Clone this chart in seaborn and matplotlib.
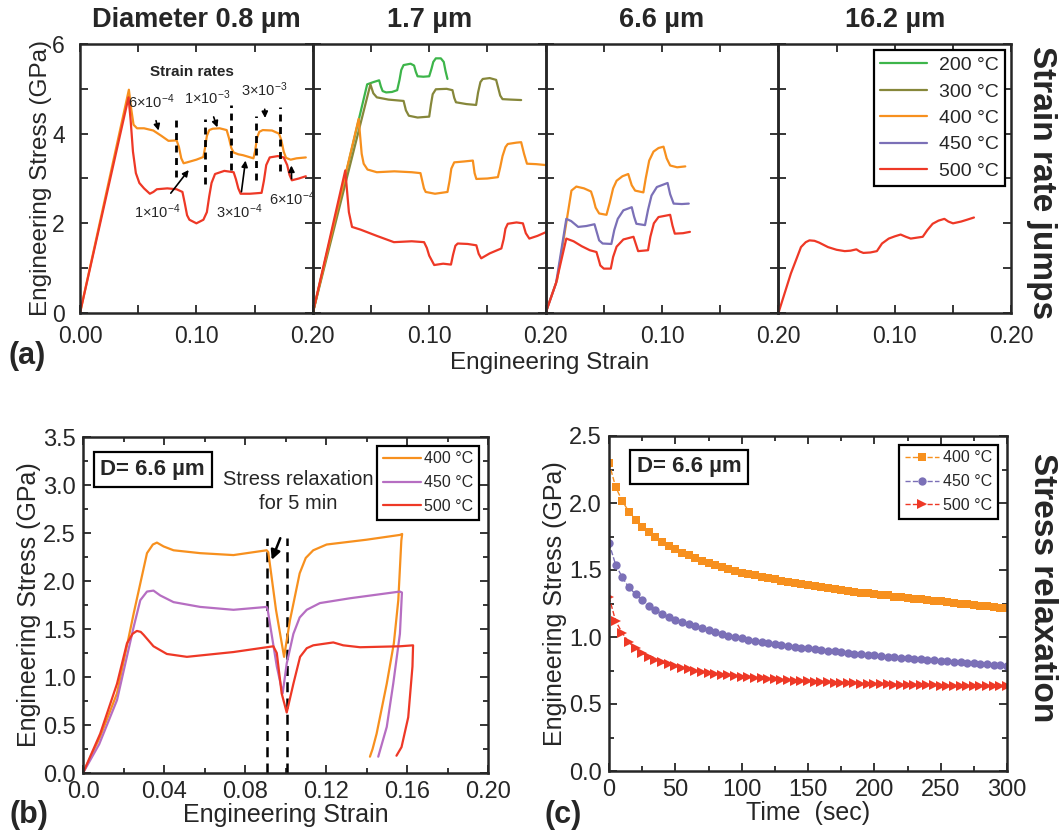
import matplotlib
matplotlib.use("Agg")
import matplotlib.pyplot as plt
from matplotlib.lines import Line2D
from matplotlib.ticker import MultipleLocator
import seaborn as sns

sns.set_style("ticks")
plt.rcParams["font.family"] = ["Liberation Sans", "DejaVu Sans"]
plt.rcParams["mathtext.default"] = "regular"
plt.rcParams["xtick.direction"] = "in"
plt.rcParams["ytick.direction"] = "in"

C_200 = "#3db54a"
C_300 = "#86873a"
C_400 = "#f7901e"
C_450 = "#7b70b7"
C_450B = "#b66ec2"
C_500 = "#ee3826"

W, H = 1064, 833

# ---------------- (a) strain rate jump data ----------------
diam_titles = ["Diameter 0.8 µm", "1.7 µm", "6.6 µm", "16.2 µm"]
temps_a = ["200 °C", "300 °C", "400 °C", "450 °C", "500 °C"]

# D = 0.8 um
a1_400_x = [0, 0.042, 0.044, 0.046, 0.049, 0.055, 0.063, 0.070, 0.076, 0.083, 0.085, 0.087, 0.089, 0.092,
            0.100, 0.106, 0.1075, 0.109, 0.111, 0.114, 0.120, 0.126, 0.128, 0.130, 0.132, 0.136, 0.140,
            0.149, 0.1505, 0.152, 0.154, 0.157, 0.165, 0.171, 0.173, 0.175, 0.177, 0.181, 0.186, 0.194]
a1_400_y = [0, 4.98, 4.55, 4.20, 4.12, 4.12, 4.07, 3.95, 3.84, 3.85, 3.70, 3.45, 3.34, 3.36,
            3.42, 3.48, 3.70, 3.95, 4.08, 4.11, 4.12, 4.08, 3.90, 3.68, 3.58, 3.54, 3.52,
            3.45, 3.62, 3.90, 4.04, 4.08, 4.07, 4.00, 3.85, 3.60, 3.46, 3.42, 3.45, 3.47]
a1_500_x = [0, 0.0417, 0.0435, 0.0455, 0.048, 0.051, 0.055, 0.060, 0.063, 0.066, 0.075, 0.083, 0.088,
            0.090, 0.092, 0.094, 0.100, 0.106, 0.109, 0.111, 0.113, 0.116, 0.124, 0.132, 0.134, 0.136,
            0.138, 0.146, 0.156, 0.158, 0.160, 0.163, 0.170, 0.175, 0.178, 0.180, 0.182, 0.188, 0.194]
a1_500_y = [0, 4.81, 4.30, 3.60, 3.12, 2.90, 2.78, 2.66, 2.70, 2.76, 2.78, 2.76, 2.70,
            2.45, 2.18, 2.08, 2.00, 2.08, 2.25, 2.60, 2.90, 3.10, 3.17, 3.14, 2.98, 2.78,
            2.66, 2.66, 2.68, 2.95, 3.30, 3.47, 3.50, 3.47, 3.30, 3.08, 2.96, 3.00, 3.05]

# D = 1.7 um
a2_200_x = [0, 0.0467, 0.052, 0.057, 0.0585, 0.060, 0.063, 0.068, 0.0725, 0.0745, 0.076, 0.078, 0.084,
            0.087, 0.0885, 0.090, 0.095, 0.100, 0.102, 0.1035, 0.1057, 0.110, 0.1125, 0.114, 0.1157]
a2_200_y = [0, 5.10, 5.15, 5.19, 5.05, 4.95, 4.92, 4.93, 4.97, 5.20, 5.42, 5.53, 5.56,
            5.52, 5.38, 5.28, 5.27, 5.28, 5.45, 5.60, 5.68, 5.68, 5.60, 5.40, 5.22]
a2_300_x = [0, 0.0495, 0.052, 0.055, 0.065, 0.078, 0.080, 0.0825, 0.090, 0.100, 0.1015, 0.103, 0.1057,
            0.115, 0.120, 0.1215, 0.123, 0.132, 0.1403, 0.142, 0.144, 0.146, 0.152, 0.1575, 0.1595,
            0.161, 0.163, 0.170, 0.179]
a2_300_y = [0, 5.10, 4.90, 4.81, 4.76, 4.73, 4.52, 4.40, 4.36, 4.38, 4.65, 4.88, 4.99,
            5.00, 4.97, 4.80, 4.70, 4.66, 4.64, 4.92, 5.15, 5.22, 5.24, 5.20, 5.00,
            4.85, 4.77, 4.76, 4.75]
a2_400_x = [0, 0.0394, 0.0405, 0.042, 0.0437, 0.047, 0.055, 0.070, 0.085, 0.0925, 0.094, 0.0955, 0.097,
            0.105, 0.1157, 0.1175, 0.119, 0.1215, 0.130, 0.1375, 0.139, 0.1405, 0.150, 0.159, 0.161,
            0.163, 0.1655, 0.1675, 0.175, 0.179, 0.1815, 0.184, 0.192, 0.200]
a2_400_y = [0, 4.33, 4.00, 3.55, 3.33, 3.20, 3.14, 3.16, 3.14, 3.12, 2.95, 2.78, 2.70,
            2.66, 2.70, 2.95, 3.22, 3.36, 3.38, 3.40, 3.12, 2.99, 3.00, 3.03, 3.25,
            3.50, 3.70, 3.77, 3.80, 3.81, 3.55, 3.33, 3.32, 3.30]
a2_500_x = [0, 0.0279, 0.0295, 0.031, 0.0337, 0.041, 0.055, 0.0697, 0.085, 0.0956, 0.098, 0.100, 0.1043,
            0.112, 0.1187, 0.1205, 0.1225, 0.1245, 0.133, 0.1405, 0.1425, 0.1447, 0.152, 0.162, 0.164,
            0.1655, 0.1675, 0.175, 0.1805, 0.183, 0.186, 0.193, 0.200]
a2_500_y = [0, 3.18, 2.70, 2.25, 1.92, 1.86, 1.72, 1.58, 1.60, 1.58, 1.45, 1.28, 1.07,
            1.10, 1.08, 1.30, 1.50, 1.55, 1.54, 1.51, 1.32, 1.22, 1.33, 1.44, 1.65,
            1.88, 1.99, 2.02, 2.00, 1.78, 1.66, 1.72, 1.80]

# D = 6.6 um
a3_400_x = [0, 0.010, 0.0222, 0.0264, 0.033, 0.039, 0.041, 0.043, 0.046, 0.0523, 0.055, 0.058, 0.061,
            0.066, 0.071, 0.074, 0.0769, 0.084, 0.086, 0.089, 0.0927, 0.097, 0.1013, 0.104, 0.107,
            0.113, 0.120]
a3_400_y = [0, 0.75, 2.73, 2.82, 2.78, 2.71, 2.55, 2.35, 2.22, 2.19, 2.45, 2.78, 2.95,
            3.05, 3.10, 2.85, 2.73, 2.69, 3.00, 3.40, 3.60, 3.68, 3.71, 3.45, 3.29,
            3.25, 3.27]
a3_450_x = [0, 0.009, 0.0178, 0.022, 0.028, 0.035, 0.042, 0.044, 0.046, 0.049, 0.0565, 0.059, 0.062,
            0.0668, 0.074, 0.076, 0.078, 0.0854, 0.088, 0.091, 0.0956, 0.1048, 0.107, 0.110, 0.117, 0.123]
a3_450_y = [0, 0.67, 2.10, 2.05, 1.92, 1.94, 1.98, 1.80, 1.62, 1.55, 1.54, 1.85, 2.10,
            2.29, 2.36, 2.15, 1.99, 1.96, 2.30, 2.62, 2.81, 2.90, 2.65, 2.44, 2.43, 2.44]
a3_500_x = [0, 0.009, 0.0178, 0.024, 0.031, 0.038, 0.0437, 0.0455, 0.047, 0.050, 0.056, 0.058, 0.061,
            0.0668, 0.0755, 0.078, 0.0795, 0.088, 0.090, 0.093, 0.097, 0.107, 0.109, 0.111, 0.118, 0.124]
a3_500_y = [0, 0.67, 1.66, 1.60, 1.49, 1.40, 1.36, 1.20, 1.06, 0.99, 0.99, 1.25, 1.48,
            1.64, 1.70, 1.50, 1.38, 1.40, 1.70, 2.00, 2.14, 2.19, 1.95, 1.77, 1.78, 1.81]

# D = 16.2 um
a4_500_x = [0, 0.0107, 0.0194, 0.0235, 0.0267, 0.031, 0.035, 0.0426, 0.050, 0.057, 0.062, 0.067, 0.070,
            0.073, 0.079, 0.0846, 0.089, 0.0948, 0.100, 0.105, 0.1095, 0.1137, 0.124, 0.128, 0.1325,
            0.1375, 0.1426, 0.146, 0.150, 0.157, 0.162, 0.168]
a4_500_y = [0, 0.88, 1.47, 1.58, 1.62, 1.61, 1.57, 1.47, 1.41, 1.38, 1.39, 1.42, 1.37,
            1.34, 1.35, 1.38, 1.55, 1.66, 1.71, 1.75, 1.70, 1.66, 1.70, 1.85, 1.99,
            2.06, 2.10, 2.04, 2.00, 2.04, 2.08, 2.13]

# strain rate change markers (0.8 um panel)
jump_x = [0.0828, 0.107, 0.130, 0.151, 0.172]
jump_top = [4.40, 4.33, 4.64, 4.40, 4.60]
jump_bot = [3.03, 2.88, 3.19, 2.96, 3.16]
rate_labels = ["6×10$^{-4}$", "1×10$^{-3}$", "3×10$^{-3}$", "1×10$^{-4}$", "3×10$^{-4}$", "6×10$^{-4}$"]
rate_text_xy = [(0.061, 4.72), (0.109, 4.80), (0.158, 4.98), (0.066, 2.27), (0.1365, 2.27), (0.182, 2.56)]
rate_tip_xy = [(0.0675, 4.07), (0.118, 4.14), (0.159, 4.35), (0.0934, 3.19), (0.1422, 3.40), (0.1816, 3.29)]

# ---------------- (b) stress relaxation curves ----------------
b_400_x = [0, 0.0085, 0.0168, 0.025, 0.0316, 0.0345, 0.0365, 0.0398, 0.0447, 0.0579, 0.0743, 0.0907,
           0.0915, 0.0953, 0.0993, 0.1022, 0.107, 0.110, 0.1137, 0.1203, 0.140, 0.1565, 0.1576, 0.1572,
           0.1557, 0.1535, 0.150, 0.145, 0.1430, 0.1417]
b_400_y = [0, 0.38, 0.83, 1.66, 2.29, 2.38, 2.40, 2.36, 2.32, 2.29, 2.27, 2.32, 2.30,
           1.70, 1.21, 1.59, 2.08, 2.24, 2.32, 2.38, 2.43, 2.48, 2.49, 2.42, 1.80, 1.35,
           0.93, 0.41, 0.25, 0.17]
b_450_x = [0, 0.008, 0.0168, 0.025, 0.0283, 0.0316, 0.0348, 0.0381, 0.0447, 0.0579, 0.0743, 0.0907,
           0.0912, 0.0957, 0.0986, 0.1006, 0.1039, 0.107, 0.1105, 0.117, 0.1318, 0.1565, 0.1575, 0.1565,
           0.1532, 0.150, 0.1458]
b_450_y = [0, 0.30, 0.76, 1.52, 1.80, 1.89, 1.90, 1.85, 1.78, 1.73, 1.70, 1.73,
           1.70, 1.11, 0.83, 1.14, 1.45, 1.62, 1.70, 1.77, 1.82, 1.89, 1.88, 1.45,
           0.93, 0.48, 0.17]
b_500_x = [0, 0.0085, 0.0168, 0.0217, 0.0245, 0.0266, 0.0285, 0.0299, 0.0348, 0.0414, 0.0513, 0.0743,
           0.094, 0.0957, 0.0981, 0.1006, 0.1039, 0.1072, 0.1105, 0.1137, 0.1236, 0.1285, 0.1368, 0.1565,
           0.163, 0.1627, 0.1606, 0.1573, 0.1548]
b_500_y = [0, 0.41, 0.93, 1.35, 1.45, 1.48, 1.47, 1.44, 1.32, 1.24, 1.21, 1.26,
           1.32, 1.25, 0.83, 0.63, 0.93, 1.21, 1.30, 1.33, 1.36, 1.33, 1.31, 1.32,
           1.33, 1.11, 0.58, 0.27, 0.18]
hold_x = [0.0907, 0.1009]

# ---------------- (c) relaxation vs time ----------------
time_s = [0, 5, 10, 15, 20, 25, 30, 35, 40, 45, 50, 55, 60, 65, 70, 75, 80, 85, 90, 95,
          100, 105, 110, 115, 120, 125, 130, 135, 140, 145, 150, 155, 160, 165, 170, 175, 180, 185, 190, 195,
          200, 205, 210, 215, 220, 225, 230, 235, 240, 245, 250, 255, 260, 265, 270, 275, 280, 285, 290, 295,
          300]
c_400 = [2.30, 2.12, 2.015, 1.935, 1.875, 1.82, 1.78, 1.745, 1.71, 1.68, 1.655, 1.63, 1.61, 1.59, 1.57,
         1.555, 1.54, 1.525, 1.51, 1.495, 1.48, 1.47, 1.46, 1.45, 1.44, 1.43, 1.42, 1.41, 1.40, 1.395,
         1.385, 1.38, 1.37, 1.365, 1.355, 1.35, 1.345, 1.335, 1.33, 1.325, 1.32, 1.315, 1.31, 1.30, 1.295,
         1.29, 1.285, 1.28, 1.275, 1.27, 1.265, 1.26, 1.255, 1.25, 1.245, 1.24, 1.235, 1.23, 1.225, 1.22,
         1.215]
c_450 = [1.70, 1.54, 1.445, 1.37, 1.32, 1.275, 1.235, 1.20, 1.175, 1.15, 1.13, 1.115, 1.095, 1.08, 1.065,
         1.05, 1.035, 1.02, 1.01, 1.0, 0.99, 0.98, 0.97, 0.962, 0.955, 0.947, 0.94, 0.933, 0.927, 0.92,
         0.915, 0.908, 0.902, 0.897, 0.892, 0.886, 0.881, 0.876, 0.871, 0.866, 0.862, 0.857, 0.853, 0.849,
         0.845, 0.841, 0.837, 0.833, 0.829, 0.825, 0.822, 0.818, 0.814, 0.811, 0.807, 0.804, 0.80, 0.797,
         0.794, 0.79, 0.787]
c_500 = [1.30, 1.12, 1.03, 0.96, 0.915, 0.88, 0.85, 0.83, 0.81, 0.795, 0.782, 0.77, 0.76, 0.75, 0.742,
         0.735, 0.727, 0.72, 0.714, 0.709, 0.704, 0.699, 0.695, 0.691, 0.687, 0.683, 0.68, 0.677, 0.674,
         0.671, 0.668, 0.666, 0.664, 0.662, 0.66, 0.658, 0.656, 0.654, 0.652, 0.651, 0.649, 0.648, 0.646,
         0.645, 0.644, 0.643, 0.642, 0.641, 0.64, 0.639, 0.638, 0.637, 0.636, 0.636, 0.635, 0.635, 0.634,
         0.634, 0.633, 0.633, 0.632]


def line(ax, xs, ys, color, lw=1.6, **kw):
    sns.lineplot(x=xs, y=ys, sort=False, estimator=None, color=color, lw=lw, ax=ax, **kw)


def box_axes(rect, xpad=6, ypad=5, labelsize=17):
    ax = fig.add_axes([rect[0] / W, 1 - rect[3] / H, (rect[2] - rect[0]) / W, (rect[3] - rect[1]) / H])
    ax.set_facecolor("none")
    ax.tick_params(which="both", direction="in", top=True, right=True, width=1.3)
    ax.tick_params(which="major", length=6, labelsize=labelsize)
    ax.tick_params(which="minor", length=3.5)
    ax.tick_params(axis="x", pad=xpad)
    ax.tick_params(axis="y", pad=ypad)
    for s in ax.spines.values():
        s.set_linewidth(1.8)
    return ax


fig = plt.figure(figsize=(W / 100, H / 100), dpi=100)

# ---------------- panel (a) ----------------
a_width = 232.8
a_lefts = [80 + i * a_width for i in range(4)]
a_curves = [
    [(a1_400_x, a1_400_y, C_400), (a1_500_x, a1_500_y, C_500)],
    [(a2_200_x, a2_200_y, C_200), (a2_300_x, a2_300_y, C_300),
     (a2_400_x, a2_400_y, C_400), (a2_500_x, a2_500_y, C_500)],
    [(a3_400_x, a3_400_y, C_400), (a3_450_x, a3_450_y, C_450), (a3_500_x, a3_500_y, C_500)],
    [(a4_500_x, a4_500_y, C_500)],
]
axes_a = []
for i, left in enumerate(a_lefts):
    ax = box_axes([left, 44, left + a_width, 313], xpad=8.5, ypad=11, labelsize=16.5)
    for xs, ys, c in a_curves[i]:
        line(ax, xs, ys, c)
    ax.set_xlim(0, 0.2)
    ax.set_ylim(0, 6)
    ax.xaxis.set_minor_locator(MultipleLocator(0.05))
    ax.yaxis.set_major_locator(MultipleLocator(2))
    ax.yaxis.set_minor_locator(MultipleLocator(1))
    ax.tick_params(which="minor", length=6)
    ax.set_xticks([0, 0.1, 0.2])
    if i == 0:
        ax.set_xticklabels(["0.00", "0.10", "0.20"])
        ax.set_ylabel("Engineering Stress (GPa)", fontsize=17.5, labelpad=0)
    else:
        ax.set_xticklabels(["", "0.10", "0.20"])
        ax.set_yticklabels([])
    ax.set_title(diam_titles[i], fontsize=19.5, fontweight="bold", pad=12)
    ax.set_xlabel("")
    axes_a.append(ax)

ax = axes_a[0]
ax.vlines(jump_x, jump_bot, jump_top, colors="black", linestyles=(0, (2.5, 2.0)), lw=2)
ax.text(0.0962, 5.37, "Strain rates", fontsize=11, fontweight="bold", ha="center", va="center")
for lab, (tx, ty), (hx, hy) in zip(rate_labels, rate_text_xy, rate_tip_xy):
    ax.annotate(lab, xy=(hx, hy), xytext=(tx, ty), fontsize=10.5, ha="center", va="center",
                annotation_clip=False,
                arrowprops=dict(arrowstyle="-|>", color="black", lw=1.2, mutation_scale=9,
                                shrinkA=5, shrinkB=0))

leg_handles = [Line2D([], [], color=c, lw=1.6) for c in [C_200, C_300, C_400, C_450, C_500]]
leg = axes_a[3].legend(leg_handles, temps_a, loc="upper right", fontsize=14, frameon=True,
                       fancybox=False, framealpha=1, edgecolor="black", handlelength=2.4,
                       borderaxespad=0.3, labelspacing=0.45, handletextpad=0.6, borderpad=0.35)
leg.get_frame().set_linewidth(1.6)

fig.text(550 / W, 1 - 363 / H, "Engineering Strain", fontsize=17.5, ha="center", va="center")
fig.text(27 / W, 1 - 356 / H, "(a)", fontsize=22, fontweight="bold", ha="center", va="center")
fig.text(1042 / W, 1 - 183 / H, "Strain rate jumps", fontsize=24, fontweight="bold",
         rotation=270, ha="center", va="center")

# ---------------- panel (b) ----------------
axb = box_axes([83, 437, 488, 773], xpad=6, ypad=5)
line(axb, b_400_x, b_400_y, C_400, label="400 °C")
line(axb, b_450_x, b_450_y, C_450B, label="450 °C")
line(axb, b_500_x, b_500_y, C_500, label="500 °C")
axb.vlines(hold_x, 0, 2.45, colors="black", linestyles=(0, (4, 2.5)), lw=1.8, zorder=1)
axb.xaxis.set_major_locator(MultipleLocator(0.04))
axb.xaxis.set_minor_locator(MultipleLocator(0.02))
axb.yaxis.set_major_locator(MultipleLocator(0.5))
axb.yaxis.set_minor_locator(MultipleLocator(0.25))
axb.set_xlim(0, 0.2)
axb.set_ylim(0, 3.5)
axb.set_xticks([0, 0.04, 0.08, 0.12, 0.16, 0.20])
axb.set_xticklabels(["0.0", "0.04", "0.08", "0.12", "0.16", "0.20"])
axb.set_yticks([0, 0.5, 1.0, 1.5, 2.0, 2.5, 3.0, 3.5])
axb.set_yticklabels(["0.0", "0.5", "1.0", "1.5", "2.0", "2.5", "3.0", "3.5"])
axb.set_xlabel("Engineering Strain", fontsize=18, labelpad=0)
axb.set_ylabel("Engineering Stress (GPa)", fontsize=18, labelpad=2)
axb.text(0.0086, 3.16, "D= 6.6 µm", fontsize=16, fontweight="bold", va="center", ha="left",
         bbox=dict(boxstyle="square,pad=0.3", fc="white", ec="black", lw=1.6))
axb.annotate("Stress relaxation\nfor 5 min", xy=(0.0932, 2.22), xytext=(0.1065, 2.93),
             fontsize=14.5, ha="center", va="center", linespacing=1.3,
             arrowprops=dict(arrowstyle="-|>", color="black", lw=1.8, mutation_scale=14,
                             shrinkA=17, shrinkB=0))
lb = axb.legend(loc="upper right", fontsize=11.5, frameon=True, fancybox=False, framealpha=1,
                edgecolor="black", handlelength=2.4, labelspacing=0.55, borderaxespad=0.55,
                handletextpad=0.2, borderpad=0.35)
lb.get_frame().set_linewidth(1.6)
fig.text(29 / W, 1 - 815 / H, "(b)", fontsize=22, fontweight="bold", ha="center", va="center")

# ---------------- panel (c) ----------------
axc = box_axes([609, 436, 1007, 771], xpad=6, ypad=5)
line(axc, time_s, c_400, C_400, lw=1.0, ls="--", marker="s", markersize=5.5, markeredgewidth=0,
     label="400 °C")
line(axc, time_s, c_450, C_450, lw=1.0, ls="--", marker="o", markersize=6, markeredgewidth=0,
     label="450 °C")
line(axc, time_s, c_500, C_500, lw=1.0, ls="--", marker=">", markersize=6.5, markeredgewidth=0,
     label="500 °C")
axc.xaxis.set_major_locator(MultipleLocator(50))
axc.xaxis.set_minor_locator(MultipleLocator(25))
axc.yaxis.set_minor_locator(MultipleLocator(0.25))
axc.set_xlim(0, 300)
axc.set_ylim(0, 2.5)
axc.set_yticks([0, 0.5, 1.0, 1.5, 2.0, 2.5])
axc.set_yticklabels(["0.0", "0.5", "1.0", "1.5", "2.0", "2.5"])
axc.set_xlabel("Time  (sec)", fontsize=18, labelpad=0)
axc.set_ylabel("Engineering Stress (GPa)", fontsize=18, labelpad=2)
axc.text(21, 2.27, "D= 6.6 µm", fontsize=16, fontweight="bold", va="center", ha="left",
         bbox=dict(boxstyle="square,pad=0.3", fc="white", ec="black", lw=1.6))
lc = axc.legend(loc="upper right", fontsize=11.5, frameon=True, fancybox=False, framealpha=1,
                edgecolor="black", handlelength=2.1, labelspacing=0.55, borderaxespad=0.55,
                handletextpad=0.3, borderpad=0.35)
lc.get_frame().set_linewidth(1.6)
fig.text(563 / W, 1 - 815 / H, "(c)", fontsize=22, fontweight="bold", ha="center", va="center")
fig.text(1042 / W, 1 - 588 / H, "Stress relaxation", fontsize=24, fontweight="bold",
         rotation=270, ha="center", va="center")

fig.savefig("out.png", dpi=100)
